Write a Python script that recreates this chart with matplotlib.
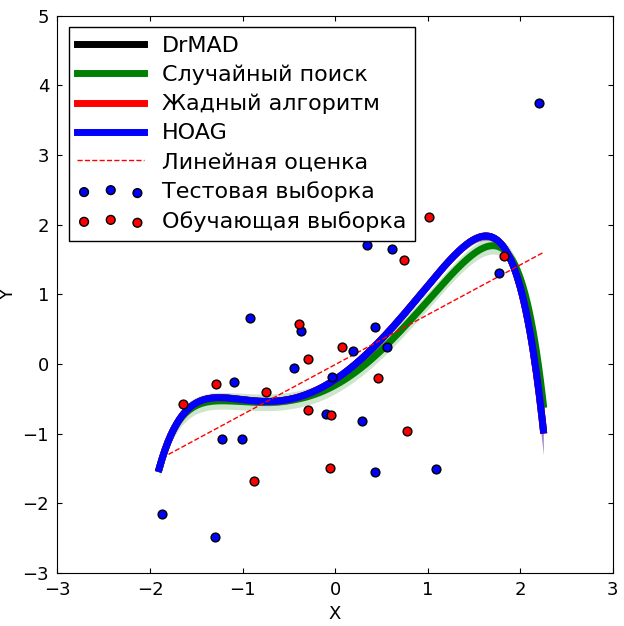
import numpy as np
import matplotlib
matplotlib.use("Agg")
import matplotlib.pyplot as plt

test_x = [-1.87,-1.30,-1.22,-1.09,-1.01,-0.92,-0.44,-0.37,-0.10,-0.03,0.19,0.29,0.34,0.43,0.43,0.56,0.61,1.09,1.77,2.20]
test_y = [-2.16,-2.48,-1.08,-0.26,-1.08,0.66,-0.06,0.47,-0.72,-0.19,0.19,-0.82,1.71,0.53,-1.55,0.24,1.65,-1.51,1.31,3.75]
train_x = [-1.64,-1.29,-0.88,-0.75,-0.39,-0.29,-0.29,-0.04,-0.05,0.07,0.46,0.74,0.78,1.02,1.83]
train_y = [-0.57,-0.29,-1.68,-0.40,0.57,0.07,-0.66,-0.73,-1.49,0.24,-0.20,1.49,-0.96,2.11,1.55]

hoag_x = [-1.9,-1.8,-1.7,-1.5,-1.2,-1.0,-0.7,-0.5,-0.2,0.0,0.3,0.6,0.9,1.2,1.5,1.65,1.8,1.9,2.0,2.1,2.25]
hoag_y = [-1.5,-1.1,-0.85,-0.55,-0.49,-0.51,-0.55,-0.52,-0.37,-0.20,0.07,0.48,0.97,1.45,1.77,1.82,1.72,1.5,1.1,0.5,-0.95]
rand_x = [-1.9,-1.8,-1.7,-1.5,-1.2,-1.0,-0.7,-0.5,-0.2,0.0,0.3,0.6,0.9,1.2,1.5,1.7,1.9,2.0,2.1,2.25]
rand_y = [-1.5,-1.1,-0.87,-0.58,-0.52,-0.55,-0.57,-0.53,-0.42,-0.28,-0.05,0.3,0.76,1.22,1.58,1.7,1.5,1.2,0.8,-0.6]
lin_x = [-1.8, 2.25]
lin_y = [-1.3, 1.6]

def smooth(x, y):
    xs = np.linspace(min(x), max(x), 400)
    c = np.polyfit(x, y, 8)
    return xs, np.polyval(c, xs)

fig = plt.figure(figsize=(6.24, 6.26), dpi=100)
ax = fig.add_axes([0.092, 0.085, 0.89, 0.89])
xs, ys = smooth(rand_x, rand_y)
ax.fill_between(xs, ys - 0.12, ys + 0.12, color='green', alpha=0.2, lw=0)
hx, hy = smooth(hoag_x, hoag_y)
ax.fill_between(hx, hy - 0.06 - 0.3*(hx > 2.1), hy + 0.06, color='#6a3d9a', alpha=0.6, lw=0)
ax.plot(hx, hy, color='black', lw=5, label='DrMAD')
ax.plot(xs, ys, color='green', lw=5, label='Случайный поиск')
ax.plot(hx, hy, color='red', lw=5, label='Жадный алгоритм')
ax.plot(hx, hy, color='blue', lw=5, label='HOAG')
ax.plot(lin_x, lin_y, 'r--', lw=1, label='Линейная оценка')
ax.scatter(test_x, test_y, c='blue', s=40, edgecolors='black', zorder=5, label='Тестовая выборка')
ax.scatter(train_x, train_y, c='red', s=40, edgecolors='black', zorder=5, label='Обучающая выборка')
ax.set_xlim(-3, 3); ax.set_ylim(-3, 5)
ax.set_xlabel('X', fontsize=13); ax.set_ylabel('Y', fontsize=13)
ax.tick_params(labelsize=13, direction='in', top=True, right=True, pad=6)
ax.legend(loc='upper left', fontsize=16, fancybox=False, edgecolor='black', framealpha=1,
          borderaxespad=0.5, handlelength=3, scatterpoints=3, labelspacing=0.4, borderpad=0.4)
fig.savefig('out.png', dpi=100)
